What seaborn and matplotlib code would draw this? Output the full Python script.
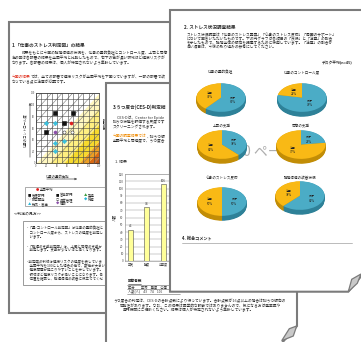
import matplotlib
matplotlib.use("Agg")
import matplotlib.pyplot as plt
from matplotlib.patches import Polygon, Rectangle
import numpy as np
import seaborn as sns

# ---------------------------------------------------------------- data
# Stress chart: job demand (x) vs. job control (y) for each department
dept_groups = ["管理部門", "営業部門", "製造部門", "全国平均", "研究開発"]
dept_x = [[3.6, 7.0, 5.3, 1.9], [1.9, 3.7, 5.3, 3.7, 3.7], [3.7], [6.6], [5.3, 6.9]]
dept_y = [[8.6, 8.6, 6.9, 5.3], [6.9, 6.9, 3.7, 3.4, 2.0], [5.3], [6.9], [5.3, 5.3]]
risk_levels = [0, -2.5, -5.3, -8.2, -9.8, -11]   # diagonal risk band boundaries

# Depression screening (CES-D) head counts
cesd_categories = ["正常", "軽度", "中等度"]
cesd_counts = [43, 74, 106]

# Stress survey: share of "良好" (blue) and "注意" (yellow) per item
pie_titles = ["仕事の量的負担", "仕事のコントロール度", "上司の支援",
              "同僚の支援", "心身のストレス反応", "職場環境の改善状況"]
pie_good = [61, 78, 38, 23, 50, 62]
pie_caution = [39, 22, 62, 77, 50, 38]

# ---------------------------------------------------------------- setup
sns.set_theme(style="white")
plt.rcParams["font.family"] = ["Noto Sans CJK JP", "DejaVu Sans"]

W, H = 361, 342
fig = plt.figure(figsize=(W / 100, H / 100), dpi=100, facecolor="white")

EDGE = "#7b7b7b"
INK = "#2c2c2c"


def layer(z):
    ax = fig.add_axes([0, 0, 1, 1], zorder=z)
    ax.set_xlim(0, W)
    ax.set_ylim(H, 0)
    ax.axis("off")
    return ax


def inset(x, y, w, h, z):
    return fig.add_axes([x / W, 1 - (y + h) / H, w / W, h / H], zorder=z)


def fit(s, x, xmax, size):
    """Cut a line of text where it would run past the edge of its sheet."""
    em = size * 100 / 72
    out, w = "", 0.0
    for ch in s:
        cw = em if ord(ch) > 0x2000 else em * 0.55
        if x + w + cw > xmax:
            break
        out += ch
        w += cw
    return out


def text(ax, x, y, s, size=2.7, color=INK, xmax=None, **kw):
    kw.setdefault("ha", "left")
    kw.setdefault("va", "center")
    if xmax is not None:
        s = fit(s, x, xmax, size)
    ax.text(x, y, s, fontsize=size, color=color, **kw)


# ================================================================ page 1
p1 = layer(1)
p1.add_patch(Rectangle((9, 22), 200, 291, facecolor="white", edgecolor=EDGE, lw=1.5))
text(p1, 12, 45, "1.「仕事のストレス判定図」の結果", size=3.3, weight="bold")
text(p1, 22, 53, "結果をもとに今回の職場環境の状況を、仕事の量的負担とコントロール度、上司と同僚の支援から評価しています。", xmax=169)
text(p1, 12, 58, "左の図は各部署の結果を全国平均と比較したもので、右下の色が濃い領域ほど健康リスクが高いことを示しています。", xmax=169)
text(p1, 12, 63, "なります。各部署の結果は、個人が特定されないよう集計しています。", xmax=169)
text(p1, 12, 77, "今回の結果", color="#e0301e")
text(p1, 12 + 5 * 3.75, 77, "では、全ての部署で健康リスクが全国平均を下回っていますが、一部の部署で改善が必要です。", xmax=169)
text(p1, 12, 82, "なっている点に注意が必要です。")

# axis captions around the judgement chart
p1.annotate("", xy=(30, 100), xytext=(30, 160),
            arrowprops=dict(arrowstyle="-|>", color="#555555", lw=0.5, mutation_scale=3))
text(p1, 25, 130, "仕事のコントロール度", rotation=90, ha="center", size=2.4)
text(p1, 103, 124, "判定結果", rotation=270, ha="center", size=2.2)
text(p1, 58, 176, "仕事の量的負担", ha="center", size=2.4)
p1.annotate("", xy=(80, 179), xytext=(44, 179),
            arrowprops=dict(arrowstyle="-|>", color="#555555", lw=0.5, mutation_scale=3))

# legend box
p1.add_patch(Rectangle((25, 187), 95, 19, fill=False, edgecolor="#8a8a8a", lw=0.5))
legend_rows = [
    (190, [(36, "●", "#e02020", "全国平均")]),
    (195, [(28, "■", "#111111", "管理部門"), (56, "■", "#111111", "営業部門"), (84, "▲", "#3a9a3a", "製造")]),
    (200, [(28, "◇", "#555555", "研究開発"), (56, "○", "#333333", "品質管理"), (84, "◆", "#27b6d8", "総務")]),
    (204, [(28, "▲", "#27b6d8", "物流・倉庫"), (56, "◆", "#8b4fa8", "情報")]),
]
for y, items in legend_rows:
    for x, sym, col, lab in items:
        text(p1, x, y, sym, color=col, size=2.4)
        text(p1, x + 3.5, y, lab, size=2.4, xmax=105)

text(p1, 14, 214, "<<判定の見方>>", size=2.8)
p1.add_patch(Rectangle((23, 221), 95, 64, fill=False, edgecolor="#8a8a8a", lw=0.6))
box_lines = [
    (228, "・「量-コントロール判定図」は仕事の量的負担と"),
    (232, "　コントロール度から、ストレスの程度を判定します。"),
    (236, "　います。"),
    (246, "・「職場の支援判定図」は、上司と同僚の支援から"),
    (250, "　判定します。支援が少ないほど高くなります。"),
    (262, "・判定図の斜線は健康リスクの程度を表しています。"),
    (266, "　全国平均を100とした場合の値で、数値が大きいほど"),
    (270, "　健康問題が起こりやすいことを示しています。右下の"),
    (275, "　領域ほど健康リスクが高いことになります。各部署の"),
    (279, "　位置を確認し、職場環境の改善に役立ててください。"),
]
for y, s in box_lines:
    text(p1, 26, y, s, size=2.5, xmax=105)

# stress judgement chart
g = inset(36, 93, 63, 70, 2)
xs = np.array([0.0, 12.0])
band_colors = ["#fff7bf", "#ffef80", "#f7da2c", "#ee9f20", "#d96a12"]
for hi, lo, col in zip(risk_levels[:-1], risk_levels[1:], band_colors):
    g.fill_between(xs, xs + lo, xs + hi, color=col, lw=0)
g.fill_between(xs, -20, xs + risk_levels[-1], color="#c05510", lw=0)
for c in range(-11, 13, 2):
    g.plot(xs, xs + c, color="#7a7a7a", lw=0.4)
markers = {"管理部門": ("s", "#111111", "#111111"),
           "営業部門": ("D", "#3cc0dc", "#3cc0dc"),
           "製造部門": ("o", "#8b4fa8", "#8b4fa8"),
           "全国平均": ("o", "#e02020", "#e02020"),
           "研究開発": ("o", "white", "#333333")}
for name, gx, gy in zip(dept_groups, dept_x, dept_y):
    m, fc, ec = markers[name]
    sns.scatterplot(x=gx, y=gy, marker=m, color=fc, edgecolor=ec, linewidth=0.4,
                    s=5, ax=g, zorder=5, legend=False)
g.set_xlim(0, 12)
g.set_ylim(0, 12)
g.set_xticks(range(13))
g.set_yticks(range(13))
g.set_xticklabels([str(i * 10) if i % 2 == 0 else "" for i in range(13)])
g.set_yticklabels([str(i * 10) if i % 2 == 0 else "" for i in range(13)])
g.tick_params(labelsize=1.8, length=0, pad=0.8, colors="#444444")
g.set_axisbelow(False)
g.grid(True, color="#444444", lw=0.4)
for sp in g.spines.values():
    sp.set_color("#333333")
    sp.set_linewidth(0.5)

# ================================================================ page 2
p2 = layer(3)
p2.add_patch(Polygon([(106, 83), (297, 83), (297, 326), (281, 344), (106, 344)],
                     closed=True, facecolor="white", edgecolor=EDGE, lw=1.5))
text(p2, 113, 107, "3.うつ度合(CES-D)判定結果", size=3.3, weight="bold", xmax=169)
text(p2, 117, 118, "CES-Dは、Center for Epidemiologic Studies Depression Scaleの略で", xmax=169)
text(p2, 113, 122, "抑うつ状態を評価する尺度です。16点以上の場合、抑うつ傾向の可能性が", xmax=169)
text(p2, 113, 127, "スクリーニングされます。", xmax=169)
text(p2, 113, 136, "今回の調査結果では", color="#f08a00", xmax=169)
text(p2, 113 + 9 * 3.75, 136, "、抑うつ傾向のある方の割合は", xmax=169)
text(p2, 113, 141, "全国平均と同程度で、うつ度合の高い職員は少数でした。", xmax=169)
text(p2, 115, 162, "1. 結果", size=2.8)

b = inset(125, 174, 53, 87, 4)
sns.barplot(x=cesd_categories, y=cesd_counts, color="#ffff99", saturation=1,
            edgecolor="#4d4d4d", linewidth=0.4, width=0.3, ax=b)
b.set_xlim(-0.33, 2.88)
b.set_ylim(0, 120)
b.set_yticks(range(0, 121, 10))
b.tick_params(labelsize=2.2, length=0, pad=1, colors="#444444")
b.grid(axis="y", color="#9a9a9a", lw=0.35)
b.set_axisbelow(True)
for sp in b.spines.values():
    sp.set_color("#9a9a9a")
    sp.set_linewidth(0.5)
b.set_ylabel("人数", fontsize=2.6, labelpad=2, color=INK)
b.set_xlabel("")
b.bar_label(b.containers[0], fontsize=2.2, padding=1, color=INK)

text(p2, 128, 281, "回答者数", size=2.6, weight="bold")
p2.plot([128, 141], [283.5, 283.5], color=INK, lw=0.4)
for y in (284.5, 289, 293.5):
    p2.plot([127, 180], [y, y], color="#666666", lw=0.4)
text(p2, 128, 287, "区分　　正常　軽度　中等度", size=2.3, xmax=169)
text(p2, 128, 291.5, "人数(人)　" + "　".join(str(v) for v in cesd_counts), size=2.3, xmax=169)
text(p2, 113, 301, "うつ度合の判定は、CES-Dの合計点数により行っています。合計点数が16点以上の場合は抑うつ傾向の", xmax=292)
text(p2, 120, 306, "可能性があります。なお、この結果は医学的な診断ではありませんので、気になる方は産業医や", xmax=294)
text(p2, 123, 310, "専門機関にご相談ください。結果は個人が特定されないよう集計しています。", xmax=294)

# ================================================================ page 3
p3 = layer(5)
p3.add_patch(Polygon([(170, 10), (363, 10), (363, 274), (348.3, 291.7), (170, 291.7)],
                     closed=True, facecolor="white", edgecolor=EDGE, lw=1.5))
# folded corners
p3.add_patch(Polygon([(348.3, 291.7), (351.7, 279.3), (361, 274), (357.3, 283.3)],
                     closed=True, facecolor="#c9c9c9", edgecolor=EDGE, lw=0.9))
p3.add_patch(Polygon([(296.7, 326), (289.3, 328.7), (281.7, 340.7), (293.3, 336)],
                     closed=True, facecolor="#c9c9c9", edgecolor=EDGE, lw=0.9))

text(p3, 184, 27, "2. ストレス状況調査結果", size=3.3, weight="bold")
text(p3, 187, 35, "ストレス状況調査は「仕事のストレス要因」「心身のストレス反応」「周囲のサポート」", xmax=340)
text(p3, 187, 39, "について回答いただいたものです。下の円グラフは各項目の「良好」と「注意」の割合", xmax=340)
text(p3, 187, 43, "を示したもので、職場全体の傾向を把握するために使用しています。「注意」の割合が", xmax=340)
text(p3, 187, 47, "高い項目は、今後の取り組みの参考にしてください。", xmax=340)
text(p3, 353, 63, "デスク平均(n=45)", ha="right", size=2.7, weight="bold")

pie_centers = [(221, 99), (302, 99), (222, 146), (301, 146), (222, 203), (300, 197)]
title_rows = [72, 72, 125, 125, 178, 178]
depth = 0.34
for (cx, cy), ty, title, good, caution in zip(pie_centers, title_rows, pie_titles,
                                               pie_good, pie_caution):
    text(p3, cx, ty, title, ha="center", size=2.6)
    pa = inset(cx - 25, cy - 16, 50, 34, 6)
    vals = [good, caution]
    for k in np.linspace(depth, 0.02, 10):
        pa.pie(vals, colors=["#2e8198", "#c28d06"], startangle=90,
               counterclock=False, center=(0, -k), wedgeprops=dict(linewidth=0))
    labels = iter([f"良好\n{good}%", f"注意\n{caution}%"])
    pa.pie(vals, colors=["#4bacc6", "#f9b915"], startangle=90, counterclock=False,
           autopct=lambda p: next(labels), pctdistance=0.5,
           textprops=dict(fontsize=2.1, color="#222222"), wedgeprops=dict(linewidth=0))
    pa.set_aspect("auto")
    pa.set_xlim(-1.02, 1.02)
    pa.set_ylim(-1 - depth - 0.02, 1.02)
    pa.axis("off")

text(p3, 262, 152, "0 ペー", ha="center", size=10, color="#adadad")
text(p3, 182, 238, "4. 総合コメント", size=3.0, weight="bold")
p3.plot([182, 352], [243, 243], color="#b0b0b0", lw=0.6)

fig.savefig("out.png", dpi=100, facecolor="white")
